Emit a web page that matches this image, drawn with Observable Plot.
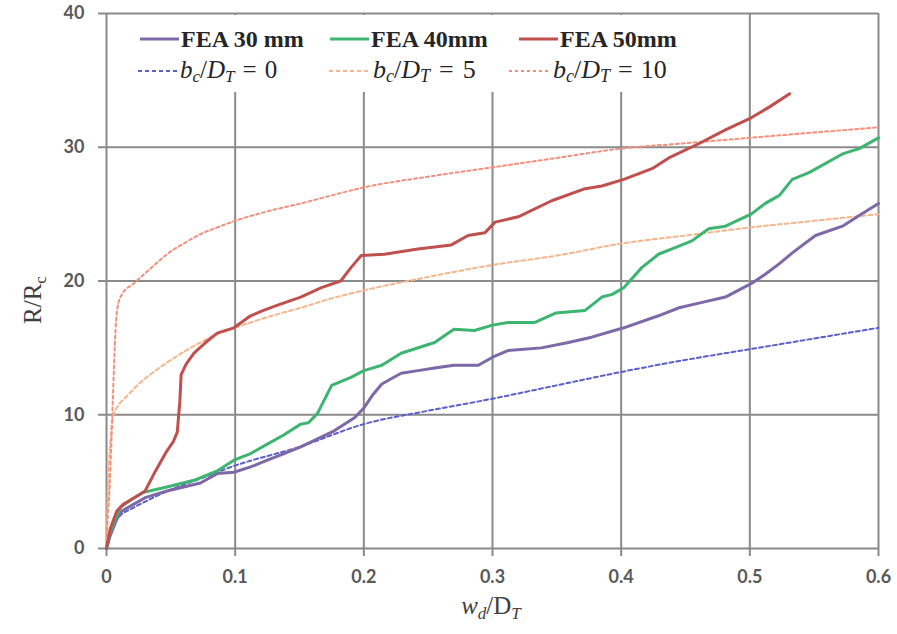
<!DOCTYPE html>
<html>
<head>
<meta charset="utf-8">
<script src="https://cdn.jsdelivr.net/npm/d3@7"></script>
<script src="https://cdn.jsdelivr.net/npm/@observablehq/plot@0.6"></script>
<style>
  html, body { margin: 0; padding: 0; background: #fff; }
  #chart { width: 897px; height: 634px; }
</style>
</head>
<body>
<div id="chart"></div>
<script>
// ---- Data ----
const xTicks = [0, 0.1, 0.2, 0.3, 0.4, 0.5, 0.6];
const xTickLabels = ["0", "0.1", "0.2", "0.3", "0.4", "0.5", "0.6"];
const yTicks = [0, 10, 20, 30, 40];
const yTickLabels = ["0", "10", "20", "30", "40"];

const seriesNames = ["FEA 30 mm", "FEA 40mm", "FEA 50mm"];
const ratioValues = ["0", "5", "10"];

const fea30X = [0, 0.003, 0.008, 0.012, 0.021, 0.03, 0.047, 0.06, 0.073, 0.086, 0.099, 0.112, 0.125, 0.138, 0.151, 0.164, 0.177, 0.193, 0.2, 0.207, 0.214, 0.229, 0.242, 0.255, 0.27, 0.289, 0.3, 0.312, 0.338, 0.359, 0.377, 0.402, 0.429, 0.445, 0.463, 0.481, 0.501, 0.512, 0.523, 0.533, 0.551, 0.572, 0.585, 0.6];
const fea30Y = [0, 1.0, 2.2, 2.8, 3.3, 3.8, 4.3, 4.6, 4.9, 5.6, 5.7, 6.1, 6.6, 7.1, 7.6, 8.2, 8.8, 9.8, 10.5, 11.5, 12.3, 13.1, 13.3, 13.5, 13.7, 13.7, 14.3, 14.8, 15.0, 15.4, 15.8, 16.5, 17.4, 18.0, 18.4, 18.8, 19.8, 20.5, 21.3, 22.1, 23.4, 24.1, 24.9, 25.8];

const fea40X = [0, 0.003, 0.011, 0.02, 0.029, 0.047, 0.068, 0.086, 0.099, 0.112, 0.125, 0.138, 0.151, 0.157, 0.164, 0.175, 0.19, 0.2, 0.214, 0.229, 0.255, 0.27, 0.286, 0.3, 0.312, 0.333, 0.349, 0.372, 0.385, 0.393, 0.402, 0.416, 0.429, 0.442, 0.455, 0.468, 0.481, 0.501, 0.512, 0.523, 0.533, 0.546, 0.572, 0.585, 0.6];
const fea40Y = [0, 1.3, 3.1, 3.7, 4.2, 4.6, 5.1, 5.8, 6.6, 7.1, 7.8, 8.5, 9.3, 9.4, 10.1, 12.2, 12.8, 13.3, 13.7, 14.6, 15.4, 16.4, 16.3, 16.7, 16.9, 16.9, 17.6, 17.8, 18.8, 19.0, 19.5, 21.0, 22.0, 22.5, 23.0, 23.9, 24.1, 25.0, 25.8, 26.4, 27.6, 28.1, 29.5, 29.9, 30.7];

const fea50X = [0, 0.003, 0.008, 0.013, 0.02, 0.03, 0.037, 0.047, 0.052, 0.055, 0.057, 0.058, 0.062, 0.068, 0.077, 0.086, 0.099, 0.112, 0.122, 0.133, 0.142, 0.151, 0.167, 0.182, 0.19, 0.198, 0.216, 0.242, 0.268, 0.281, 0.294, 0.302, 0.32, 0.346, 0.372, 0.385, 0.402, 0.424, 0.437, 0.461, 0.481, 0.501, 0.515, 0.531];
const fea50Y = [0, 1.5, 2.8, 3.3, 3.7, 4.3, 5.6, 7.3, 8.0, 8.7, 11.0, 13.0, 13.8, 14.6, 15.4, 16.1, 16.5, 17.4, 17.8, 18.2, 18.5, 18.8, 19.5, 20.0, 21.0, 21.9, 22.0, 22.4, 22.7, 23.4, 23.6, 24.4, 24.8, 26.0, 26.9, 27.1, 27.6, 28.4, 29.2, 30.3, 31.3, 32.2, 33.0, 34.0];

const bd0X = [0, 0.002, 0.005, 0.01, 0.02, 0.03, 0.05, 0.075, 0.1, 0.15, 0.2, 0.25, 0.3, 0.35, 0.4, 0.45, 0.5, 0.55, 0.6];
const bd0Y = [0, 1.0, 1.7, 2.4, 3.0, 3.5, 4.4, 5.3, 6.2, 7.6, 9.3, 10.3, 11.2, 12.2, 13.2, 14.1, 14.9, 15.7, 16.5];

const bd5X = [0, 0.001, 0.002, 0.005, 0.01, 0.016, 0.025, 0.034, 0.047, 0.06, 0.073, 0.086, 0.1, 0.125, 0.151, 0.175, 0.2, 0.25, 0.3, 0.35, 0.4, 0.45, 0.5, 0.55, 0.6];
const bd5Y = [0, 4.5, 6.5, 9.8, 10.8, 11.4, 12.3, 13.0, 13.9, 14.7, 15.4, 16.0, 16.5, 17.3, 18.0, 18.7, 19.3, 20.3, 21.2, 21.9, 22.8, 23.4, 24.0, 24.5, 25.0];

const bd10X = [0, 0.001, 0.002, 0.004, 0.005, 0.007, 0.0085, 0.012, 0.021, 0.035, 0.047, 0.06, 0.073, 0.086, 0.1, 0.125, 0.151, 0.175, 0.2, 0.25, 0.3, 0.35, 0.4, 0.45, 0.5, 0.55, 0.6];
const bd10Y = [0, 2.5, 3.8, 8.5, 11.3, 16.3, 18.0, 19.0, 19.8, 21.0, 22.0, 22.8, 23.5, 24.0, 24.5, 25.2, 25.8, 26.4, 27.0, 27.8, 28.5, 29.2, 29.9, 30.3, 30.7, 31.1, 31.5];

// ---- Build tables ----
function toRows(xs, ys) { return xs.map((x, i) => ({x, y: ys[i]})); }
const fea30 = toRows(fea30X, fea30Y);
const fea40 = toRows(fea40X, fea40Y);
const fea50 = toRows(fea50X, fea50Y);
const bd0 = toRows(bd0X, bd0Y);
const bd5 = toRows(bd5X, bd5Y);
const bd10 = toRows(bd10X, bd10Y);

const C = {
  purple: "#7d68a8", green: "#3db571", red: "#c0504d",
  blue: "#5c5fc9", orange: "#f5b68c", salmon: "#f38f7b",
  grid: "#8a8a8a", text: "#595959"
};

const plot = Plot.plot({
  width: 897, height: 634,
  marginLeft: 106, marginRight: 19, marginTop: 13, marginBottom: 86,
  x: {domain: [0, 0.6]},
  y: {domain: [0, 40]},
  style: {fontFamily: "Lato, 'Liberation Sans', sans-serif", fontWeight: "bold", fontSize: "18px", color: C.text, background: "#fff"},
  marks: [
    Plot.gridX(xTicks, {stroke: C.grid, strokeOpacity: 1, strokeWidth: 2}),
    Plot.gridY(yTicks, {stroke: C.grid, strokeOpacity: 1, strokeWidth: 2}),
    Plot.axisX(xTicks, {tickSize: 8, tickPadding: 14, stroke: C.grid, strokeWidth: 2, fill: C.text, label: null,
      tickFormat: d => xTickLabels[xTicks.indexOf(d)]}),
    Plot.axisY(yTicks, {tickSize: 8, tickPadding: 14, stroke: C.grid, strokeWidth: 2, fill: C.text, label: null,
      tickFormat: d => yTickLabels[yTicks.indexOf(d)]}),
    Plot.line(bd0, {x: "x", y: "y", stroke: C.blue, strokeWidth: 2, strokeDasharray: "4,3", curve: "monotone-x"}),
    Plot.line(bd5, {x: "x", y: "y", stroke: C.orange, strokeWidth: 2, strokeDasharray: "4,3", curve: "monotone-x"}),
    Plot.line(bd10, {x: "x", y: "y", stroke: C.salmon, strokeWidth: 2, strokeDasharray: "3,3", curve: "monotone-x"}),
    Plot.line(fea30, {x: "x", y: "y", stroke: C.purple, strokeWidth: 3}),
    Plot.line(fea40, {x: "x", y: "y", stroke: C.green, strokeWidth: 3}),
    Plot.line(fea50, {x: "x", y: "y", stroke: C.red, strokeWidth: 3})
  ]
});

document.getElementById("chart").appendChild(plot);

// ---- Axis titles and in-plot legend ----
const svg = d3.select(plot);
const serif = "'Liberation Serif', 'DejaVu Serif', serif";

// x title
const xt = svg.append("text").attr("x", 491).attr("y", 614).attr("text-anchor", "middle")
  .attr("font-family", serif).attr("font-size", 25).attr("font-weight", "normal").attr("fill", "#404040");
xt.append("tspan").attr("font-style", "italic").text("w");
xt.append("tspan").attr("font-style", "italic").attr("font-size", 17).attr("dy", 5).text("d");
xt.append("tspan").attr("dy", -5).text("/D");
xt.append("tspan").attr("font-style", "italic").attr("font-size", 17).attr("dy", 5).text("T");

// y title
const yt = svg.append("text").attr("transform", "translate(41,300) rotate(-90)").attr("text-anchor", "middle")
  .attr("font-family", serif).attr("font-size", 25).attr("font-weight", "normal").attr("fill", "#404040");
yt.append("tspan").text("R/R");
yt.append("tspan").attr("font-size", 17).attr("dy", 5).text("c");

// legend
const lg = svg.append("g").attr("text-anchor", "start");
lg.append("rect").attr("x", 108).attr("y", 15).attr("width", 612).attr("height", 77).attr("fill", "#fff");
const row1 = [
  {name: seriesNames[0], color: C.purple, x0: 140},
  {name: seriesNames[1], color: C.green, x0: 330},
  {name: seriesNames[2], color: C.red, x0: 519}
];
row1.forEach(e => {
  lg.append("line").attr("x1", e.x0).attr("x2", e.x0 + 39).attr("y1", 39).attr("y2", 39)
    .attr("stroke", e.color).attr("stroke-width", 3);
  lg.append("text").attr("x", e.x0 + 41).attr("y", 47).attr("text-anchor", "start").attr("font-family", serif)
    .attr("font-size", 24).attr("font-weight", "bold").attr("fill", "#262626").text(e.name);
});
const row2 = [
  {val: ratioValues[0], color: C.blue, dash: "4,3", x0: 138, w: 40, fs: 25, gap: 8},
  {val: ratioValues[1], color: C.orange, dash: "4,3", x0: 329, w: 42, fs: 26, gap: 9},
  {val: ratioValues[2], color: C.salmon, dash: "3,3", x0: 509, w: 42, fs: 26, gap: 8}
];
row2.forEach(e => {
  lg.append("line").attr("x1", e.x0).attr("x2", e.x0 + e.w).attr("y1", 71).attr("y2", 71)
    .attr("stroke", e.color).attr("stroke-width", 2).attr("stroke-dasharray", e.dash);
  const t = lg.append("text").attr("x", e.x0 + e.w + 2).attr("y", 78).attr("text-anchor", "start").attr("font-family", serif)
    .attr("font-size", e.fs).attr("font-weight", "normal").attr("fill", "#262626");
  const sub = Math.round(e.fs * 0.68);
  t.append("tspan").attr("font-style", "italic").text("b");
  t.append("tspan").attr("font-style", "italic").attr("font-size", sub).attr("dy", 4).text("c");
  t.append("tspan").attr("dy", -4).text("/");
  t.append("tspan").attr("font-style", "italic").text("D");
  t.append("tspan").attr("font-style", "italic").attr("font-size", sub).attr("dy", 4).text("T");
  t.append("tspan").attr("dy", -4).attr("dx", e.gap).text("=");
  t.append("tspan").attr("dx", e.gap).text(e.val);
});
</script>
</body>
</html>
